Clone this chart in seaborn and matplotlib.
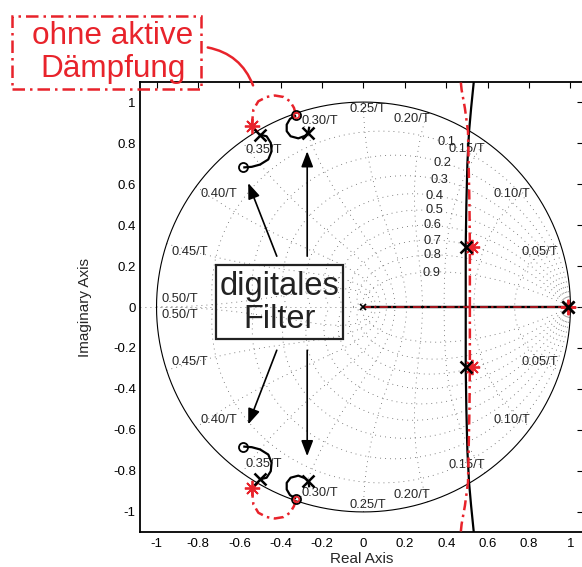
import numpy as np
import matplotlib
matplotlib.use("Agg")
import matplotlib.pyplot as plt
from matplotlib.patches import Rectangle, FancyArrowPatch
import seaborn as sns

# ---------------- z-plane grid ----------------
zeta_values = [0.1, 0.2, 0.3, 0.4, 0.5, 0.6, 0.7, 0.8, 0.9]
wn_steps = [1, 2, 3, 4, 5, 6, 7, 8, 9, 10]          # natural frequency in units of pi/(10 T)

zeta_labels = ["0.1", "0.2", "0.3", "0.4", "0.5", "0.6", "0.7", "0.8", "0.9"]
zeta_label_x = [0.400, 0.384, 0.365, 0.345, 0.341, 0.331, 0.331, 0.331, 0.331]
zeta_label_y = [0.805, 0.705, 0.622, 0.544, 0.471, 0.398, 0.324, 0.256, 0.168]

wn_labels = ["0.05/T", "0.10/T", "0.15/T", "0.20/T", "0.25/T",
             "0.30/T", "0.35/T", "0.40/T", "0.45/T", "0.50/T"]
wn_label_x = [0.853, 0.717, 0.498, 0.234, 0.020, -0.210, -0.484, -0.701, -0.838, -0.886]
wn_label_y = [0.268, 0.549, 0.770, 0.915, 0.965, 0.908, 0.768, 0.549, 0.269, 0.037]

# ---------------- root loci (upper half; lower half is the conjugate) ----------------
# real-axis branch
real_x = [0.0, 0.99]
real_y = [0.0, 0.0]

# dominant branch, with active damping (black) and without (red)
act_x = [0.494, 0.494, 0.497, 0.502, 0.510, 0.520, 0.529, 0.533]
act_y = [0.000, 0.300, 0.500, 0.700, 0.856, 0.970, 1.060, 1.100]
pas_x = [0.514, 0.514, 0.512, 0.508, 0.505, 0.490, 0.474, 0.470]
pas_y = [0.000, 0.300, 0.500, 0.700, 0.856, 0.970, 1.060, 1.100]

# digital filter branches (black)
filt_a_x = [-0.500, -0.468, -0.448, -0.444, -0.460, -0.500, -0.540, -0.581]
filt_a_y = [0.841, 0.833, 0.801, 0.760, 0.720, 0.695, 0.684, 0.681]
filt_b_x = [-0.262, -0.267, -0.283, -0.315, -0.352, -0.371, -0.371, -0.355, -0.326]
filt_b_y = [0.880, 0.850, 0.835, 0.823, 0.833, 0.858, 0.890, 0.918, 0.935]

# resonance branch without active damping (red)
res_x = [-0.540, -0.532, -0.508, -0.468, -0.428, -0.387, -0.355, -0.336, -0.326]
res_y = [0.882, 0.963, 1.004, 1.025, 1.032, 1.025, 1.004, 0.972, 0.935]

# poles and zeros
act_pole_x = [0.494, 0.99, -0.500, -0.267]
act_pole_y = [0.294, 0.0, 0.841, 0.850]
pas_pole_x = [0.523, 0.99, -0.540]
pas_pole_y = [0.294, 0.0, 0.882]
act_zero_x = [-0.581, -0.326]
act_zero_y = [0.681, 0.935]
pas_zero_x = [-0.326]
pas_zero_y = [0.935]
origin_x = [0.0]
origin_y = [0.0]

# annotation arrows (tail -> head), upper half mirrored below
arrow_tail_x = [-0.419, -0.272]
arrow_tail_y = [0.248, 0.248]
arrow_head_x = [-0.557, -0.272]
arrow_head_y = [0.605, 0.760]
arrow_tail_y_low = [-0.211, -0.211]
arrow_head_y_low = [-0.573, -0.728]

RED = "#e8232b"
BLACK = "#000000"
GRID = "#5a5a5a"

sns.set_theme(style="white")
plt.rcParams["font.family"] = ["Liberation Sans", "DejaVu Sans"]
plt.rcParams["lines.solid_capstyle"] = "butt"

fig = plt.figure(figsize=(5.82, 5.67), dpi=100)
ax = fig.add_axes([0.2405, 0.0617, 0.761, 0.7937])
ax.set_facecolor("white")

# unit circle
t = np.linspace(0, 2 * np.pi, 721)
ax.plot(np.cos(t), np.sin(t), color=BLACK, lw=0.8, zorder=2)

dot = dict(color=GRID, lw=0.6, linestyle=(0, (1, 5)), zorder=1)
ax.axhline(0, **dot)
# constant damping spirals
th = np.linspace(0, np.pi, 300)
for zt in zeta_values:
    r = np.exp(-zt / np.sqrt(1 - zt ** 2) * th)
    ax.plot(r * np.cos(th), r * np.sin(th), **dot)
    ax.plot(r * np.cos(th), -r * np.sin(th), **dot)
# constant natural frequency curves
zz = np.linspace(0, 1, 200)
for k in wn_steps:
    w = k * np.pi / 10
    r = np.exp(-zz * w)
    ang = w * np.sqrt(1 - zz ** 2)
    ax.plot(r * np.cos(ang), r * np.sin(ang), **dot)
    ax.plot(r * np.cos(ang), -r * np.sin(ang), **dot)

for lab, x, y in zip(zeta_labels, zeta_label_x, zeta_label_y):
    ax.text(x, y, lab, fontsize=9.3, ha="center", va="center", zorder=3)
for lab, x, y in zip(wn_labels, wn_label_x, wn_label_y):
    ax.text(x, y, lab, fontsize=9.3, ha="center", va="center", zorder=3)
    ax.text(x, -y, lab, fontsize=9.3, ha="center", va="center", zorder=3)

# root locus branches
solid = dict(color=BLACK, lw=1.6, linestyle="-", zorder=4)
dashdot = dict(color=RED, lw=1.8, linestyle=(0, (4, 1.8, 1, 1.8)), zorder=5)


def branch(xs, ys, style):
    for s in (1, -1):
        sns.lineplot(x=xs, y=[s * v for v in ys], sort=False, estimator=None,
                     ax=ax, legend=False, **style)


branch(real_x, real_y, solid)
branch(real_x, real_y, dict(dashdot, color="#a0141c", lw=1.4))
branch(act_x, act_y, solid)
branch(pas_x, pas_y, dashdot)
branch(filt_a_x, filt_a_y, solid)
branch(filt_b_x, filt_b_y, solid)
branch(res_x, res_y, dashdot)

# markers
for s in (1, -1):
    ax.plot(pas_pole_x, [s * v for v in pas_pole_y], ls="none", marker=(8, 2, 0),
            ms=11, mew=1.3, color=RED, zorder=6)
    ax.plot(act_pole_x, [s * v for v in act_pole_y], ls="none", marker="x",
            ms=8, mew=1.8, color=BLACK, zorder=7)
    ax.plot(act_zero_x, [s * v for v in act_zero_y], ls="none", marker="o",
            ms=6.5, mew=1.3, mfc="none", mec=BLACK, zorder=7)
    ax.plot(pas_zero_x, [s * v for v in pas_zero_y], ls="none", marker="o",
            ms=4, mew=1.2, mfc="none", mec=RED, zorder=8)
ax.plot(origin_x, origin_y, ls="none", marker="x", ms=4.5, mew=1.2, color=BLACK, zorder=7)

# arrows from the filter box
arrow_kw = dict(arrowstyle="-|>,head_length=0.94,head_width=0.36", lw=1.2,
                color=BLACK, shrinkA=0, shrinkB=0, mutation_scale=10)
for i in range(len(arrow_tail_x)):
    ax.annotate("", xy=(arrow_head_x[i], arrow_head_y[i]),
                xytext=(arrow_tail_x[i], arrow_tail_y[i]), arrowprops=arrow_kw, zorder=6)
    ax.annotate("", xy=(arrow_head_x[i], arrow_head_y_low[i]),
                xytext=(arrow_tail_x[i], arrow_tail_y_low[i]), arrowprops=arrow_kw, zorder=6)

# "digitales Filter" box
ax.add_patch(Rectangle((-0.713, -0.154), 0.614, 0.361, fill=False,
                       ec="#222222", lw=1.6, zorder=6))
ax.text(-0.406, 0.100, "digitales", fontsize=23.5, ha="center", va="center",
        color="#222222", zorder=6)
ax.text(-0.406, -0.061, "Filter", fontsize=23.5, ha="center", va="center",
        color="#222222", zorder=6)

# axes styling
ax.set_xlim(-1.080, 1.060)
ax.set_ylim(-1.098, 1.098)
ticks = [-1, -0.8, -0.6, -0.4, -0.2, 0, 0.2, 0.4, 0.6, 0.8, 1]
tick_labels = ["-1", "-0.8", "-0.6", "-0.4", "-0.2", "0", "0.2", "0.4", "0.6", "0.8", "1"]
ax.set_xticks(ticks)
ax.set_xticklabels(tick_labels)
ax.set_yticks(ticks)
ax.set_yticklabels(tick_labels)
ax.tick_params(direction="in", length=4, width=0.8, top=True, right=True,
               labelsize=9.5, colors=BLACK)
ax.tick_params(axis="x", pad=4)
ax.tick_params(axis="y", pad=3)
for sp in ax.spines.values():
    sp.set_color(BLACK)
    sp.set_linewidth(1.3)
ax.set_xlabel("Real Axis", fontsize=11)
ax.set_ylabel("Imaginary Axis", fontsize=11)
ax.xaxis.set_label_coords(0.5, -0.045)
ax.yaxis.set_label_coords(-0.108, 0.5)

# callout for the undamped case
W, H = 582.0, 567.0
fig.patches.append(Rectangle((12 / W, 1 - 89 / H), 189 / W, 73 / H, fill=False,
                             ec=RED, lw=1.8, linestyle=(0, (5, 2, 1, 2)),
                             transform=fig.transFigure, figure=fig, zorder=10))
fig.text(113 / W, 1 - 44 / H, "ohne aktive", fontsize=22.7, color=RED,
         ha="center", va="baseline")
fig.text(113 / W, 1 - 77 / H, "Dämpfung", fontsize=22.7, color=RED,
         ha="center", va="baseline")
fig.patches.append(FancyArrowPatch((205 / W, 1 - 47 / H), (254 / W, 1 - 88 / H),
                                   connectionstyle="arc3,rad=-0.3", arrowstyle="-",
                                   color=RED, lw=1.8, transform=fig.transFigure,
                                   figure=fig, zorder=10))

fig.savefig("out.png", dpi=100)
